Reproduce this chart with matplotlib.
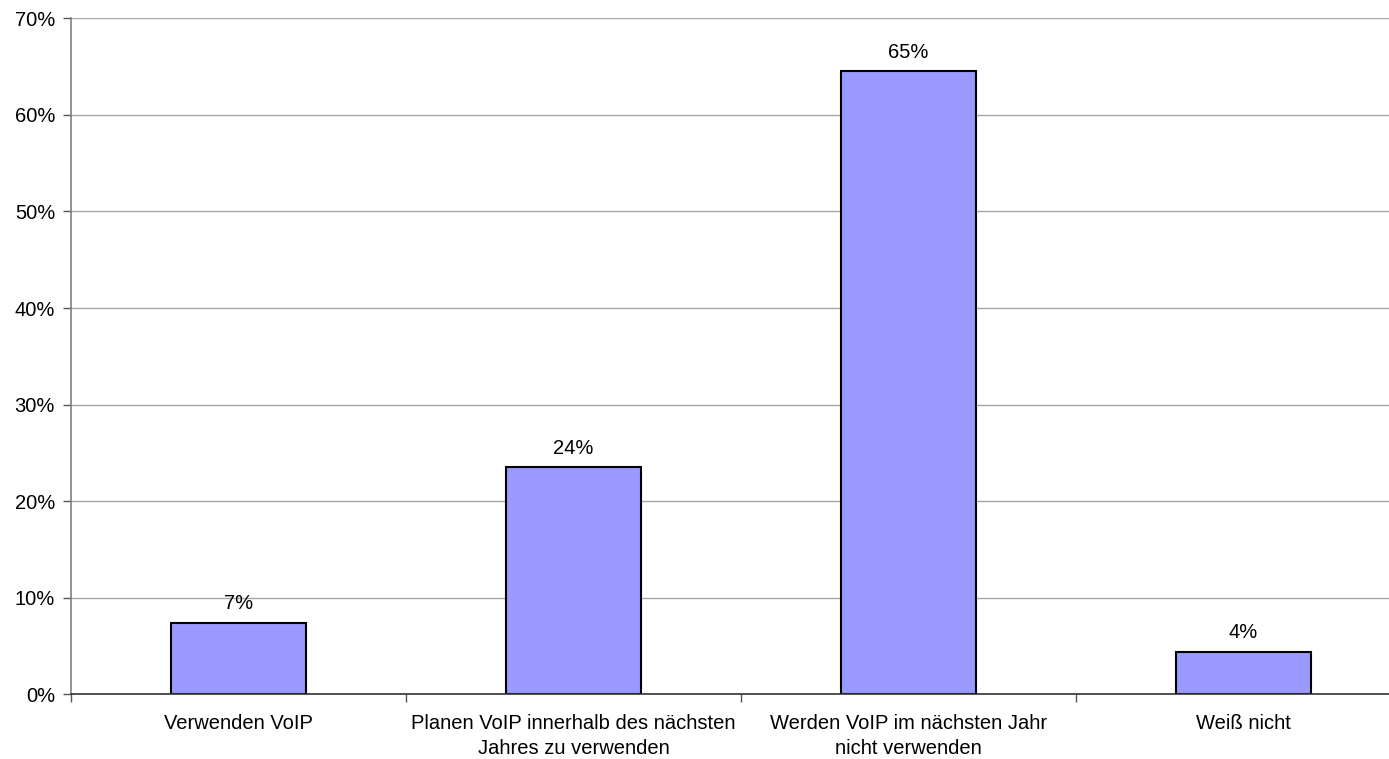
import matplotlib
matplotlib.use("Agg")
import matplotlib.pyplot as plt
from matplotlib.ticker import FixedLocator, PercentFormatter

categories = ["Verwenden VoIP",
              "Planen VoIP innerhalb des nächsten\nJahres zu verwenden",
              "Werden VoIP im nächsten Jahr\nnicht verwenden",
              "Weiß nicht"]
values = [7.4, 23.5, 64.5, 4.4]
value_labels = ["7%", "24%", "65%", "4%"]
y_ticks = [0, 10, 20, 30, 40, 50, 60, 70]

plt.rcParams['font.family'] = ['Liberation Sans', 'DejaVu Sans']
FS = 14.5

fig = plt.figure(figsize=(13.89, 7.59), dpi=100)
W, H = 1389, 759
left, right, top, bottom = 71, 1411, 18.3, 694.3
ax = fig.add_axes([left / W, (H - bottom) / H, (right - left) / W, (bottom - top) / H])

x = list(range(len(categories)))
bars = ax.bar(x, values, width=0.403, color="#9999FF", edgecolor="black", linewidth=1.5, zorder=3)

for xi, v, lab in zip(x, values, value_labels):
    ax.annotate(lab, (xi, v), xytext=(0, 7), textcoords="offset points",
                ha="center", va="bottom", fontsize=FS, color="black")

ax.set_xlim(-0.5, len(categories) - 0.5)
ax.set_ylim(0, 70)
ax.yaxis.set_major_locator(FixedLocator(y_ticks))
ax.yaxis.set_major_formatter(PercentFormatter(decimals=0))
ax.yaxis.grid(True, color="#a6a6a6", linewidth=1.0, zorder=0)

ax.xaxis.set_major_locator(FixedLocator([i - 0.5 for i in range(len(categories) + 1)]))
ax.xaxis.set_major_formatter(plt.NullFormatter())
ax.xaxis.set_minor_locator(FixedLocator(x))
ax.set_xticklabels(categories, minor=True, fontsize=FS, linespacing=1.4)
ax.tick_params(axis="x", which="minor", length=0, pad=14)
ax.tick_params(axis="x", which="major", length=6, width=1, color="#555555", direction="out")
ax.tick_params(axis="y", length=6, width=1, color="#555555", labelsize=FS, pad=5.5)

for s in ["top", "right"]:
    ax.spines[s].set_visible(False)
ax.spines["left"].set_color("#808080")
ax.spines["left"].set_linewidth(1.2)
ax.spines["bottom"].set_color("#333333")
ax.spines["bottom"].set_linewidth(1.2)
ax.spines["bottom"].set_zorder(4)

fig.savefig("out.png", dpi=100)
